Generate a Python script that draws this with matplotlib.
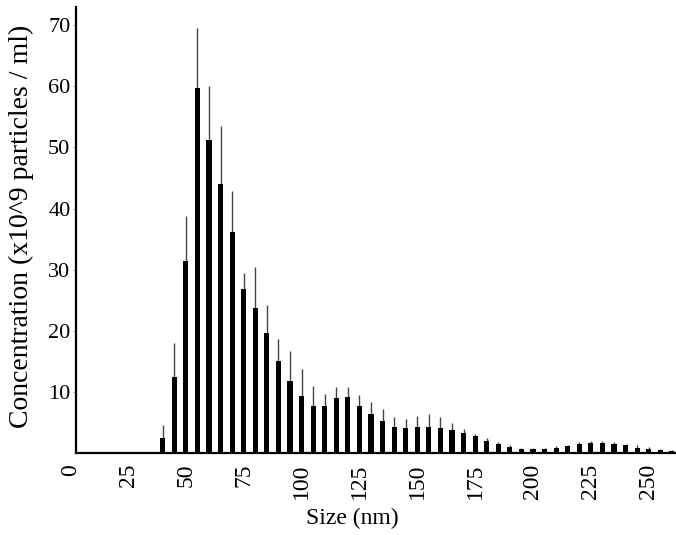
import matplotlib
matplotlib.use("Agg")
import matplotlib.pyplot as plt

# Size bins (nm)
sizes = [40, 45, 50, 55, 60, 65, 70, 75, 80, 85,
         90, 95, 100, 105, 110, 115, 120, 125, 130, 135,
         140, 145, 150, 155, 160, 165, 170, 175, 180, 185,
         190, 195, 200, 205, 210, 215, 220, 225, 230, 235,
         240, 245, 250, 255, 260]
# Mean concentration (x10^9 particles / ml)
conc = [2.4, 12.4, 31.4, 59.7, 51.3, 44.0, 36.1, 26.9, 23.7, 19.6,
        15.1, 11.8, 9.3, 7.7, 7.7, 9.0, 9.2, 7.7, 6.3, 5.2,
        4.3, 4.1, 4.2, 4.2, 4.1, 3.7, 3.2, 2.7, 2.0, 1.4,
        1.0, 0.7, 0.6, 0.7, 0.85, 1.1, 1.4, 1.6, 1.55, 1.4,
        1.2, 0.85, 0.7, 0.45, 0.3]
# Upper error (error-bar top value)
err_top = [4.5, 17.9, 38.8, 69.6, 60.0, 53.5, 42.8, 29.5, 30.5, 24.2,
           18.6, 16.7, 13.8, 11.0, 9.6, 10.7, 10.8, 9.5, 8.4, 7.1,
           5.9, 5.5, 6.0, 6.3, 5.8, 4.9, 3.9, 3.1, 2.4, 1.7,
           1.2, 0.85, 0.75, 0.85, 1.1, 1.3, 1.8, 2.0, 2.0, 1.7,
           1.45, 1.2, 0.95, 0.7, 0.45]
err = [t - c for t, c in zip(err_top, conc)]

xticks = [0, 25, 50, 75, 100, 125, 150, 175, 200, 225, 250]
yticks = [10, 20, 30, 40, 50, 60, 70]

plt.rcParams['font.family'] = ['Liberation Serif', 'DejaVu Serif']

W, H = 676, 535
fig = plt.figure(figsize=(W / 100, H / 100), dpi=100)
x0_px = 70.2
ax_w = W - x0_px
ax_h = 452.8 - 7
ax = fig.add_axes([x0_px / W, 82.2 / H, ax_w / W, ax_h / H])

xmin_spine = 2.5
xmax = 261.8
ax.bar(sizes, conc, width=2.2, color='black', zorder=2)
ax.errorbar(sizes, conc, yerr=[[0] * len(err), err], fmt='none',
            ecolor='#444444', elinewidth=1.0, capsize=0, zorder=1)

ax.set_xlim(0, xmax)
ax.set_ylim(0, 73)
ax.set_xticks(xticks)
ax.set_yticks(yticks)
ax.tick_params(axis='x', labelrotation=90, labelsize=17, length=0, pad=8)
ax.tick_params(axis='y', labelsize=16, length=2, width=0.6, color='#888888', pad=2)

for s in ['top', 'right']:
    ax.spines[s].set_visible(False)
ax.spines['left'].set_position(('data', xmin_spine))
ax.spines['left'].set_linewidth(1.6)
ax.spines['bottom'].set_linewidth(1.6)
ax.spines['bottom'].set_bounds(xmin_spine, xmax)

ax.set_xlabel('Size (nm)', fontsize=17)
ax.xaxis.set_label_coords((352 - x0_px) / ax_w, (452.8 - 508) / ax_h)
ax.set_ylabel('Concentration (x10^9 particles / ml)', fontsize=20)
ax.yaxis.set_label_coords((34 - x0_px) / ax_w, (452.8 - 226.5) / ax_h)

fig.savefig('out.png', dpi=100)
